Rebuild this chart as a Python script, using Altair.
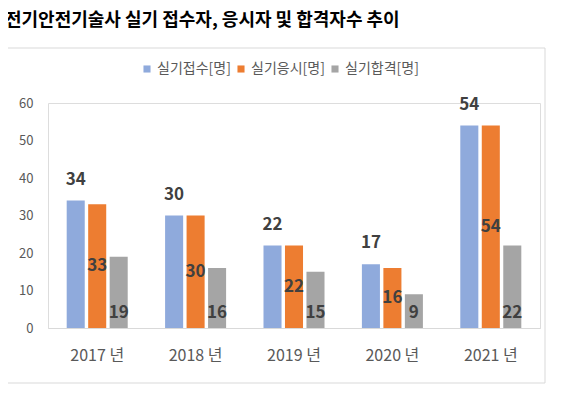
import altair as alt
import pandas as pd

years = ["2017 년", "2018 년", "2019 년", "2020 년", "2021 년"]
series = ["실기접수[명]", "실기응시[명]", "실기합격[명]"]
applied = [34, 30, 22, 17, 54]
took = [33, 30, 22, 16, 54]
passed = [19, 16, 15, 9, 22]
colors = ["#8FAADC", "#ED7D31", "#A5A5A5"]
y_ticks = [0, 10, 20, 30, 40, 50, 60]
title_text = "전기안전기술사 실기 접수자, 응시자 및 합격자수 추이"

rows = []
for i, y in enumerate(years):
    for s, vals in zip(series, [applied, took, passed]):
        rows.append({"year": y, "series": s, "value": vals[i]})
df = pd.DataFrame(rows)

FONT = "Noto Sans CJK KR"
W, H = 492, 225

x = alt.X("year:N", sort=years, scale=alt.Scale(paddingInner=0, paddingOuter=0),
          axis=alt.Axis(title=None, labelAngle=0, ticks=False, domainColor="#D9D9D9",
                        labelColor="#595959", labelFontSize=16, labelPadding=19, labelFont=FONT))
xo = alt.XOffset("series:N", sort=series, scale=alt.Scale(paddingInner=0.16, paddingOuter=0.87))
yscale = alt.Scale(domain=[0, 60], nice=False)
yaxis = alt.Axis(title=None, values=y_ticks, domain=False, ticks=False,
                 grid=False, labelColor="#595959", labelFontSize=13, labelPadding=15,
                 labelFont=FONT, labelOverlap=False)

bars = alt.Chart(df).mark_bar().encode(
    x=x, xOffset=xo,
    y=alt.Y("value:Q", scale=yscale, axis=yaxis),
    color=alt.Color("series:N", sort=series, scale=alt.Scale(domain=series, range=colors),
                    legend=alt.Legend(title=None, orient="none", direction="horizontal",
                                      legendX=92, legendY=-41, symbolType="square", symbolSize=50,
                                      symbolStrokeWidth=0, labelFontSize=14, labelColor="#595959",
                                      labelFont=FONT, labelOffset=3, columnPadding=3)),
)

lab_style = dict(font=FONT, fontSize=17, fontWeight="bold", color="#404040")

top_labels = alt.Chart(df).transform_filter(alt.datum.series == series[0]).mark_text(
    baseline="bottom", dy=-12, **lab_style).encode(
    x=x, xOffset=xo, y=alt.Y("value:Q", scale=yscale, axis=yaxis), text="value:Q")

mid_labels = alt.Chart(df).transform_filter(alt.datum.series == series[1]).transform_calculate(
    half="datum.value / 2").mark_text(baseline="middle", **lab_style).encode(
    x=x, xOffset=xo, y=alt.Y("half:Q", scale=yscale, axis=yaxis), text="value:Q")

base_labels = alt.Chart(df).transform_filter(alt.datum.series == series[2]).transform_calculate(
    zero="0").mark_text(baseline="bottom", dy=-6, **lab_style).encode(
    x=x, xOffset=xo, y=alt.Y("zero:Q", scale=yscale, axis=yaxis), text="value:Q")

border = alt.Chart(pd.DataFrame({"a": [0]})).mark_rect(
    fill=None, stroke="#D9D9D9", strokeWidth=1).encode(
    x=alt.value(-44), x2=alt.value(497), y=alt.value(-55), y2=alt.value(280))

chart = alt.layer(border, bars, top_labels, mid_labels, base_labels).properties(
    width=W, height=H,
    title=alt.TitleParams(title_text, anchor="start", frame="group", dx=-43, offset=4,
                          baseline="alphabetic", font=FONT, fontSize=18, fontWeight="bold",
                          color="#000000"),
    autosize=alt.AutoSizeParams(type="none"),
    padding={"left": 40, "top": 95, "right": 13, "bottom": 61},
).configure_view(stroke=None).configure(background="white")

chart.save("out.html", embed_options={"renderer": "svg", "actions": False})
